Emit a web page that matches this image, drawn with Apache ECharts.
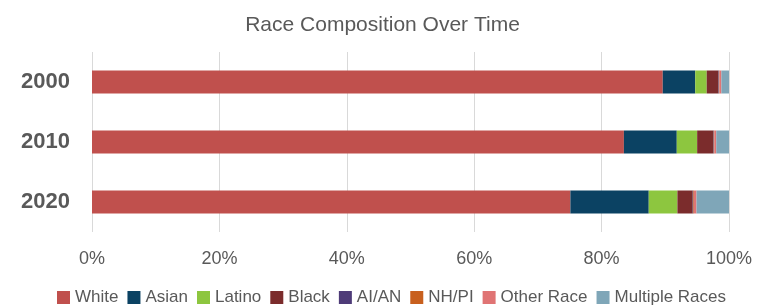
<!DOCTYPE html>
<html>
<head>
<meta charset="utf-8">
<script src="https://cdn.jsdelivr.net/npm/echarts@6/dist/echarts.min.js"></script>
<style>
html,body{margin:0;padding:0;background:#fff;}
#main{width:765px;height:305px;}
</style>
</head>
<body>
<div id="main"></div>
<script>
var years = ['2000', '2010', '2020'];
var raceNames = ['White', 'Asian', 'Latino', 'Black', 'AI/AN', 'NH/PI', 'Other Race', 'Multiple Races'];
var white    = [89.6, 83.5, 75.1];
var asian    = [5.1, 8.3, 12.3];
var latino   = [1.8, 3.2, 4.5];
var black    = [1.8, 2.5, 2.4];
var aian     = [0.1, 0.1, 0.1];
var nhpi     = [0.1, 0.1, 0.1];
var other    = [0.3, 0.3, 0.4];
var multiple = [1.2, 2.0, 5.1];
var xTicks = [0, 20, 40, 60, 80, 100];

var raceValues = [white, asian, latino, black, aian, nhpi, other, multiple];
var raceColors = ['#c0504d', '#0b4263', '#8dc63f', '#7b2c2c', '#4e3b78', '#c8601e', '#e07474', '#7fa6b8'];

var series = [];
for (var i = 0; i < raceNames.length; i++) {
	series.push({
		name: raceNames[i],
		type: 'bar',
		stack: 'total',
		barWidth: 23,
		itemStyle: {color: raceColors[i]},
		data: raceValues[i]
	});
}

var chart = echarts.init(document.getElementById('main'));
chart.setOption({
	animation: false,
	textStyle: {fontFamily: 'Liberation Sans, Arial, sans-serif'},
	title: {
		text: 'Race Composition Over Time',
		left: 'center',
		top: 10,
		textStyle: {color: '#595959', fontSize: 21, fontWeight: 'normal'}
	},
	legend: {
		data: raceNames,
		top: 284,
		left: 52,
		itemWidth: 13,
		itemHeight: 13,
		itemGap: 9,
		icon: 'rect',
		textStyle: {color: '#595959', fontSize: 17}
	},
	grid: {left: 92, right: 36, top: 52, bottom: 73},
	xAxis: {
		type: 'value',
		min: xTicks[0],
		max: xTicks[xTicks.length - 1],
		interval: 20,
		axisLine: {show: false},
		axisTick: {show: false},
		axisLabel: {color: '#595959', fontSize: 18, margin: 18, formatter: '{value}%'},
		splitLine: {show: true, lineStyle: {color: '#d9d9d9', width: 1}}
	},
	yAxis: {
		type: 'category',
		inverse: true,
		data: years,
		axisLine: {show: false},
		axisTick: {show: false},
		axisLabel: {color: '#595959', fontSize: 22, fontWeight: 'bold', margin: 22}
	},
	series: series
});
</script>
</body>
</html>
